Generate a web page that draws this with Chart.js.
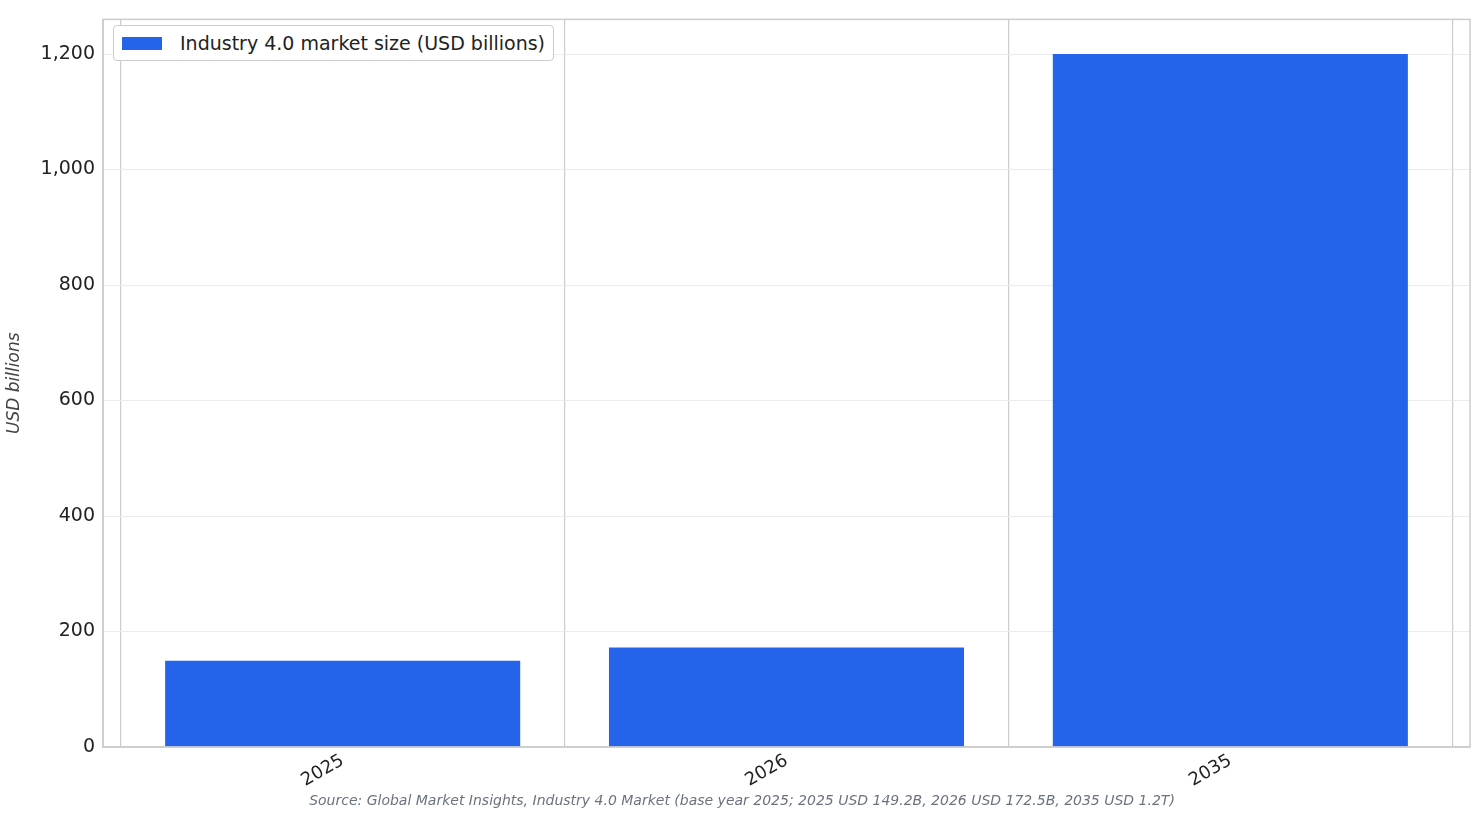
<!DOCTYPE html>
<html><head><meta charset="utf-8">
<script src="https://cdn.jsdelivr.net/npm/chart.js@4"></script>
<style>
html,body{margin:0;padding:0;background:#fff;font-family:"DejaVu Sans",sans-serif;}
#wrap{position:relative;width:1484px;height:824px;}
#legend{position:absolute;left:113px;top:25px;border:1px solid #ccc;border-radius:4px;background:#fff;padding:6px 8px 6px 8px;font-size:19px;color:#222;display:flex;align-items:center;}
#legend span.box{display:inline-block;width:40px;height:13px;background:#2563EB;margin-right:18px;}
#src{position:absolute;left:0;width:1484px;top:792px;text-align:center;font-size:14px;font-style:italic;color:#6b7280;}
</style></head>
<body><div id="wrap"><canvas id="c" width="1484" height="824"></canvas>
<div id="legend"><span class="box"></span>Industry 4.0 market size (USD billions)</div>
<div id="src">Source: Global Market Insights, Industry 4.0 Market (base year 2025; 2025 USD 149.2B, 2026 USD 172.5B, 2035 USD 1.2T)</div>
</div>
<script>
const categories = ["2025","2026","2035"];
const marketSize = [149.2, 172.5, 1200];
const yTicks = [0,200,400,600,800,1000,1200];

new Chart(document.getElementById('c'), {
  type:'bar',
  data:{datasets:[{label:'Industry 4.0 market size (USD billions)',
    data: marketSize.map((v,i)=>({x:i,y:v})),
    backgroundColor:'#2563EB', barPercentage:0.8, categoryPercentage:1.0}]},
  options:{
    responsive:false, animation:false,
    layout:{padding:{top:15,right:14,bottom:22,left:0}},
    plugins:{legend:{display:false},tooltip:{enabled:false}},
    scales:{
      x:{type:'linear',min:-0.54,max:2.54,offset:false,
        afterBuildTicks:s=>{s.ticks=categories.map((c,i)=>({value:i}));},
        afterFit:s=>{s.height=55;},
        ticks:{callback:(v)=>categories[v],minRotation:30,maxRotation:30,color:'#222',font:{size:18,family:'DejaVu Sans'}},
        grid:{color:'#cccccc',drawTicks:false,lineWidth:1.2},
        border:{color:'#cccccc',width:1.5}},
      y:{min:0,max:1260,
        afterBuildTicks:s=>{s.ticks=yTicks.map(v=>({value:v}));},
        afterFit:s=>{s.width=103;},
        ticks:{color:'#222',font:{size:19,family:'DejaVu Sans'},padding:8},
        grid:{color:'#ececec',drawTicks:false},
        border:{color:'#cccccc',width:1.5},
        title:{display:true,text:'USD billions',color:'#444',font:{size:17,style:'italic',family:'DejaVu Sans'}}}
    }
  },
  plugins:[{id:'frame',afterDraw(ch){const a=ch.chartArea,c=ch.ctx;c.save();c.strokeStyle='#cccccc';c.lineWidth=1.5;c.strokeRect(a.left,a.top,a.right-a.left,a.bottom-a.top);c.restore();}}]
});
</script></body></html>
